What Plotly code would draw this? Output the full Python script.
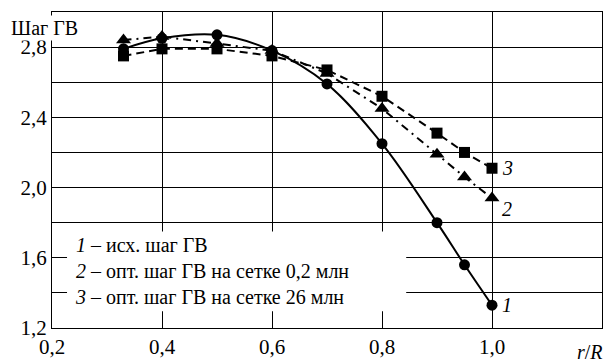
import plotly.graph_objects as go

x_vals = [0.33, 0.4, 0.5, 0.6, 0.7, 0.8, 0.9, 0.95, 1.0]
y_series1 = [2.79, 2.85, 2.87, 2.78, 2.59, 2.25, 1.80, 1.56, 1.33]
y_series2 = [2.84, 2.86, 2.82, 2.78, 2.65, 2.45, 2.19, 2.06, 1.94]
y_series3 = [2.75, 2.79, 2.79, 2.75, 2.67, 2.52, 2.31, 2.20, 2.11]

x_ticks = [0.2, 0.4, 0.6, 0.8, 1.0, 1.2]
x_ticktext = ["0,2", "0,4", "0,6", "0,8", "1,0", ""]
y_ticks = [1.2, 1.4, 1.6, 1.8, 2.0, 2.2, 2.4, 2.6, 2.8, 3.0]
y_ticktext = ["1,2", "", "1,6", "", "2,0", "", "2,4", "", "2,8", ""]

legend_lines = [
    "<i>1</i> – исх. шаг ГВ",
    "<i>2</i> – опт. шаг ГВ на сетке 0,2 млн",
    "<i>3</i> – опт. шаг ГВ на сетке 26 млн",
]

FONT = "Times New Roman"

fig = go.Figure()
fig.add_trace(go.Scatter(x=x_vals, y=y_series3, mode="lines+markers",
                         line=dict(color="black", width=2, dash="8px,5px"),
                         marker=dict(symbol="square", size=11, color="black")))
fig.add_trace(go.Scatter(x=x_vals, y=y_series2, mode="lines+markers",
                         line=dict(color="black", width=2, dash="8px,5px,2px,5px"),
                         marker=dict(symbol="triangle-up", size=13, color="black")))
fig.add_trace(go.Scatter(x=x_vals, y=y_series1, mode="lines+markers",
                         line=dict(color="black", width=2, shape="spline"),
                         marker=dict(symbol="circle", size=11, color="black")))

# white box behind the legend text (covers the grid)
fig.add_shape(type="rect", xref="x", yref="y", x0=0.2273, x1=0.844, y0=1.296, y1=1.75,
              fillcolor="white", line=dict(width=0), layer="between")

fig.add_annotation(x=0.2373, y=1.523, xref="x", yref="y", xanchor="left", yanchor="middle",
                   text="<br>".join(legend_lines), showarrow=False, align="left",
                   font=dict(family=FONT, size=20))

# curve labels
for lbl, yv in [("3", y_series3[-1]), ("2", y_series2[-1] - 0.06), ("1", y_series1[-1])]:
    fig.add_annotation(x=1.0, y=yv, xref="x", yref="y", xanchor="left", yanchor="middle",
                       xshift=8, text="<i>%s</i>" % lbl, showarrow=False,
                       font=dict(family=FONT, size=20))

fig.add_annotation(x=-0.078, y=2.91, xref="paper", yref="y", xanchor="left", yanchor="middle",
                   text="Шаг ГВ", showarrow=False, bgcolor="white", borderpad=1,
                   font=dict(family=FONT, size=20))
fig.add_annotation(x=1.005, y=-0.075, xref="paper", yref="paper", xanchor="right", yanchor="middle",
                   text="<i>r</i>/<i>R</i>", showarrow=False,
                   font=dict(family=FONT, size=20))

fig.update_xaxes(range=[0.2, 1.2], tickvals=x_ticks, ticktext=x_ticktext,
                 showgrid=True, gridcolor="black", gridwidth=1.3,
                 showline=True, linecolor="black", linewidth=1.3, mirror=True,
                 zeroline=False, ticks="", ticklen=0, automargin=False,
                 tickfont=dict(family=FONT, size=21))
fig.update_yaxes(range=[1.2, 3.0], tickvals=y_ticks, ticktext=y_ticktext,
                 showgrid=True, gridcolor="black", gridwidth=1.3,
                 showline=True, linecolor="black", linewidth=1.3, mirror=True,
                 zeroline=False, ticks="", ticklen=0, automargin=False,
                 tickfont=dict(family=FONT, size=21))

fig.update_layout(width=605, height=363, showlegend=False,
                  font=dict(family=FONT, color="black", size=20),
                  margin=dict(l=52, r=3, t=12, b=35, autoexpand=False),
                  plot_bgcolor="white", paper_bgcolor="white")

post = (
    "document.body.style.margin='0';document.body.style.overflow='hidden';"
    "var s=document.createElement('style');"
    "s.textContent=\".main-svg text, .main-svg tspan{font-family:'Times New Roman','Liberation Serif',serif !important;}\";"
    "document.head.appendChild(s);"
)
fig.write_html("out.html", config={"displayModeBar": False}, post_script=post)
